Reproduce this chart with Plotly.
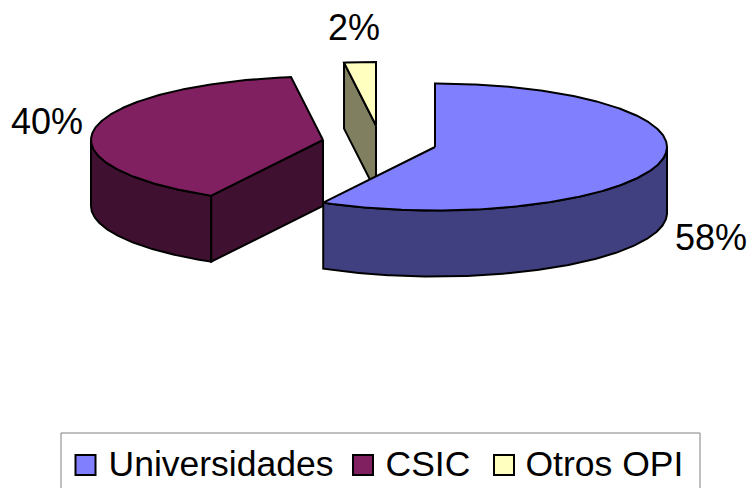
import math
import plotly.graph_objects as go

categories = ["Universidades", "CSIC", "Otros OPI"]
values = [58.0, 39.8, 2.2]
top_colors = ["#8080FF", "#802060", "#FFFFC0"]
side_colors = ["#404080", "#401030", "#808060"]
centers = [(435, 147), (323, 140), (376, 125.5)]
label_pos = [(711, 241), (47, 124.5), (354, 31)]
legend_swatch_x = [85.5, 363, 504]
legend_text_x = [108.5, 385.5, 525.5]
SWATCH_Y = 465
LEGEND_TEXT_Y = 467.5
RX, RY, DEPTH = 232, 63.5, 66
FONT = "Liberation Sans, Arial, sans-serif"


def pt(c, a, dz=0):
    r = math.radians(a)
    return c[0] + RX * math.sin(r), c[1] - RY * math.cos(r) + dz


def arc(c, a0, a1, dz=0):
    n = max(2, int(abs(a1 - a0)) * 2)
    return [pt(c, a0 + (a1 - a0) * i / n, dz) for i in range(n + 1)]


fig = go.Figure()


def poly(points, color):
    xs = [p[0] for p in points] + [points[0][0]]
    ys = [p[1] for p in points] + [points[0][1]]
    fig.add_trace(go.Scatter(x=xs, y=ys, mode="lines", fill="toself", fillcolor=color,
                             line=dict(color="black", width=2), showlegend=False, hoverinfo="skip"))


spans = []
acc = 0
for v in values:
    spans.append((acc * 3.6, (acc + v) * 3.6))
    acc += v

# Otros OPI: radial cut face then top
c = centers[2]; a0, a1 = spans[2]
poly([c, pt(c, a0), pt(c, a0, DEPTH), (c[0], c[1] + DEPTH)], side_colors[2])
poly([c] + arc(c, a0, a1), top_colors[2])

# CSIC: outer wall, radial cut face, top
c = centers[1]; a0, a1 = spans[1]
poly(arc(c, a0, 270) + arc(c, 270, a0, DEPTH), side_colors[1])
poly([c, pt(c, a0), pt(c, a0, DEPTH), (c[0], c[1] + DEPTH)], side_colors[1])
poly([c] + arc(c, a0, a1), top_colors[1])

# Universidades: outer wall, top
c = centers[0]; a0, a1 = spans[0]
poly(arc(c, 90, a1) + arc(c, a1, 90, DEPTH), side_colors[0])
poly([c] + arc(c, a0, a1), top_colors[0])

# percentage labels
fig.add_trace(go.Scatter(x=[p[0] for p in label_pos], y=[p[1] for p in label_pos],
                         mode="text", text=[f"{v:.0f}%" for v in values],
                         textfont=dict(family=FONT, size=36, color="black"),
                         textposition="middle center", showlegend=False, hoverinfo="skip"))

# legend swatches and names
fig.add_trace(go.Scatter(x=legend_swatch_x, y=[SWATCH_Y] * 3, mode="markers",
                         marker=dict(symbol="square", size=20, color=top_colors,
                                     line=dict(color="black", width=2)),
                         showlegend=False, hoverinfo="skip"))
fig.add_trace(go.Scatter(x=legend_text_x, y=[LEGEND_TEXT_Y] * 3, mode="text", text=categories,
                         textposition="middle right",
                         textfont=dict(family=FONT, size=35.5, color="black"),
                         showlegend=False, hoverinfo="skip"))

fig.update_layout(
    width=750, height=488, margin=dict(l=0, r=0, t=0, b=0),
    paper_bgcolor="white", plot_bgcolor="white", showlegend=False,
    xaxis=dict(range=[0, 750], visible=False, fixedrange=True),
    yaxis=dict(range=[488, 0], visible=False, fixedrange=True),
    shapes=[dict(type="rect", xref="x", yref="y", x0=61, x1=700, y0=433, y1=500,
                 line=dict(color="#808080", width=1), fillcolor="rgba(0,0,0,0)", layer="below")],
)
fig.write_html("out.html", config=dict(displayModeBar=False),
               post_script="document.body.style.margin='0';")
